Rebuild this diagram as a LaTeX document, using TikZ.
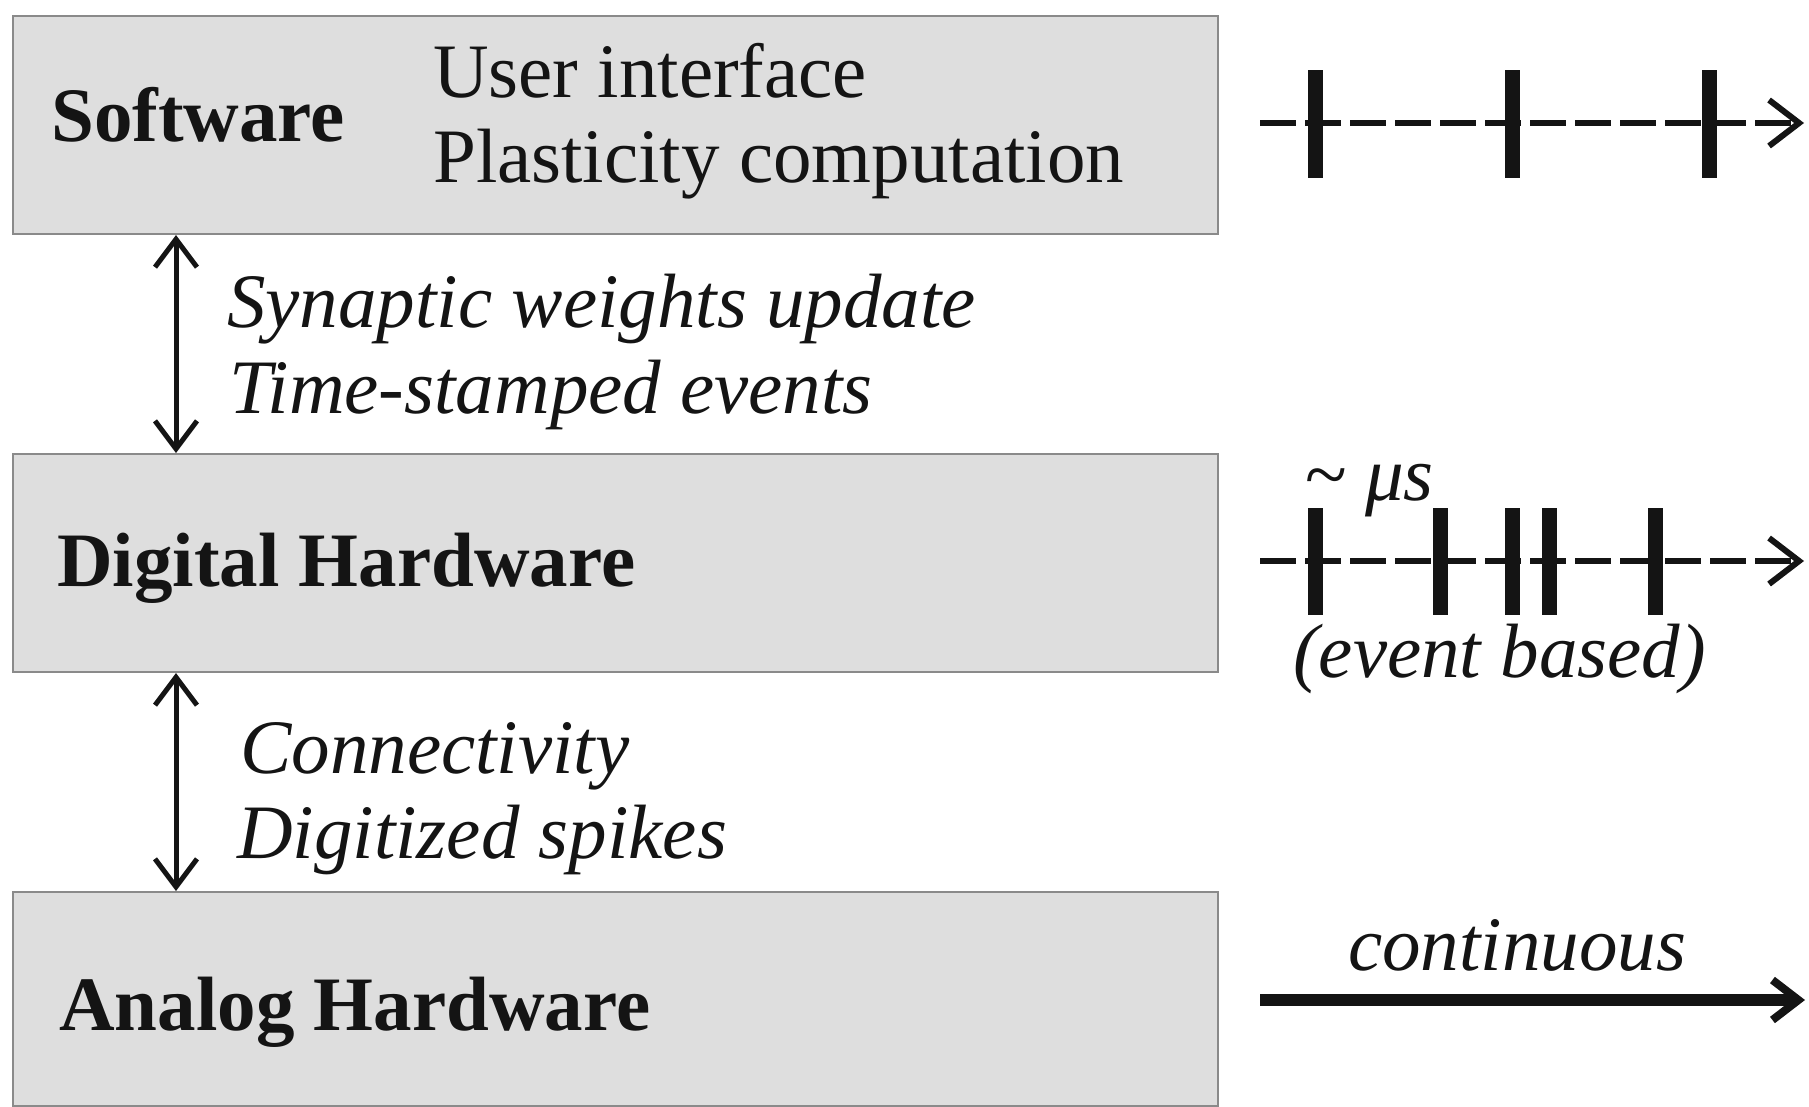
\documentclass[tikz,border=0pt]{standalone}
\usepackage{fontspec}
\setmainfont{Liberation Serif}
\usetikzlibrary{arrows.meta}
\definecolor{boxfill}{HTML}{DEDEDE}
\definecolor{boxline}{HTML}{8A8A8A}
\definecolor{ink}{HTML}{141414}
\begin{document}
\begin{tikzpicture}[x=1pt,y=-1pt,
  box/.style={draw=boxline, fill=boxfill, line width=2pt, minimum width=1205pt, minimum height=218pt, anchor=north west, inner sep=0pt},
  lbl/.style={anchor=base west, inner sep=0pt, text=ink, font=\fontsize{77}{85}\selectfont},
  blbl/.style={anchor=base west, inner sep=0pt, text=ink, font=\fontsize{77}{85}\selectfont\bfseries},
  ilbl/.style={anchor=base west, inner sep=0pt, text=ink, font=\fontsize{77}{85}\selectfont\itshape},
  link/.style={line width=5pt, draw=ink, {Straight Barb[length=28pt,width=42pt]}-{Straight Barb[length=28pt,width=42pt]}},
  tline/.style={line width=6pt, draw=ink, dash pattern=on 36pt off 9pt, -{Straight Barb[length=30pt,width=46pt]}},
  tickmark/.style={fill=ink, draw=none, inner sep=0pt, minimum width=15pt, minimum height=108pt},
  cline/.style={line width=12pt, draw=ink, -{Straight Barb[length=26pt,width=40pt,line width=8pt]}}
]
\useasboundingbox (0,0) rectangle (1809,1106);

% boxes
\node[box] (sw) at (12,15) {};
\node[box] (dh) at (12,453) {};
\node[box, minimum height=214pt] (ah) at (12,891) {};

% box texts
\node[blbl] (swt) at (51,141) {Software};
\node[lbl] (ui) at (433,97) {User interface};
\node[lbl] (pc) at (433,182) {Plasticity computation};
\node[blbl] (dht) at (57,586) {Digital Hardware};
\node[blbl] (aht) at (59,1030) {Analog Hardware};

% vertical links
\coordinate (ax) at (176,0);
\draw[link] (sw.south -| ax) -- (dh.north -| ax);
\draw[link] (dh.south -| ax) -- (ah.north -| ax);
\node[ilbl] (l1) at (227,327) {Synaptic weights update};
\node[ilbl] (l2) at (229,413) {Time-stamped events};
\node[ilbl] (l3) at (240,773) {Connectivity};
\node[ilbl] (l4) at (237,858) {Digitized spikes};

% timeline 1 (software)
\coordinate (s1) at (1260,123);
\coordinate (e1) at (1804,123);
\draw[tline] (s1) -- (e1);
\node[tickmark] (a1) at (1315,124) {};
\node[tickmark] (a2) at (1512,124) {};
\node[tickmark] (a3) at (1709,124) {};

% timeline 2 (digital)
\coordinate (s2) at (1260,561);
\coordinate (e2) at (1804,561);
\draw[tline] (s2) -- (e2);
\node[tickmark, minimum height=107pt] (b1) at (1315,561.5) {};
\node[tickmark, minimum height=107pt] (b2) at (1440,561.5) {};
\node[tickmark, minimum height=107pt] (b3) at (1512,561.5) {};
\node[tickmark, minimum height=107pt] (b4) at (1549,561.5) {};
\node[tickmark, minimum height=107pt] (b5) at (1655,561.5) {};
\node[ilbl] (mu) at (1304,500) {\textasciitilde\ μs};
\node[ilbl] (ev) at (1293,677) {(event based)};

% timeline 3 (analog)
\coordinate (s3) at (1260,1000);
\coordinate (e3) at (1805,1000);
\draw[cline] (s3) -- (e3);
\node[ilbl] (co) at (1348,970) {continuous};
\end{tikzpicture}
\end{document}
